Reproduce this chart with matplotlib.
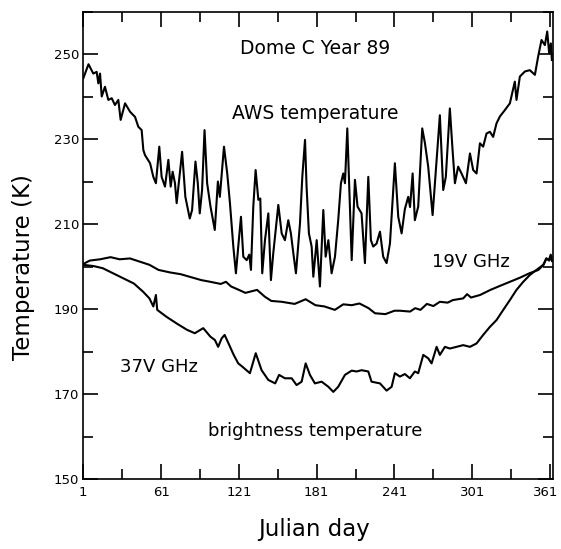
import matplotlib
matplotlib.use("Agg")
import matplotlib.pyplot as plt
from matplotlib.transforms import ScaledTranslation

# AWS air temperature (K)
aws_day = [1, 5, 8.7, 11.3, 12.6, 13.9, 15.2, 17.7, 20.3, 22.9, 25.4, 28, 29.8, 33.2,
           37.1, 40.9, 43.4, 46, 47.3, 48.6, 52.5, 55, 57, 59.6, 61.4, 64, 66.6, 68.4,
           69.9, 71.7, 73, 77.2, 79.7, 83.1, 84.9, 87.5, 89.3, 90.8, 92.6, 94.5, 96.5,
           99.1, 102.4, 104.8, 106.3, 109.5, 112, 114.1, 116.7, 118.7, 120.5, 122.6,
           124.4, 127, 129, 130.3, 132.1, 133.9, 136, 137.5, 139, 141.1, 143.7, 145.7,
           147.5, 151.4, 154, 156.5, 159.1, 161.1, 163, 165, 168.1, 169.9, 172, 173.2,
           175, 177.1, 178.4, 181, 183.5, 186.1, 187.9, 190, 192.5, 195.1, 197.6, 199.7,
           201.5, 202.8, 204.6, 206.6, 208, 210.5, 212.5, 215.6, 218.2, 220.8, 222.8,
           224.6, 227.2, 229.8, 232.3, 234.9, 237.5, 241.3, 243.9, 246.5, 249, 251.6,
           253, 255, 256.7, 259.3, 262.4, 264.5, 267, 270.4, 272.2, 276, 278.6, 280.6,
           283.7, 285.8, 287.6, 290.1, 292.7, 296.1, 299.2, 301.7, 304.3, 306.9, 309.4,
           312, 314.6, 317.1, 319.7, 322.3, 326.1, 330, 333.8, 335.1, 337.7, 341.6,
           345.4, 349.3, 351.8, 354.4, 357, 358.8, 360.3, 361.6, 362.4]
aws_temp = [244.3, 247.6, 245.4, 245.8, 243.1, 245.4, 240.0, 242.3, 239.2, 239.6, 238.0,
            239.2, 234.5, 238.4, 236.4, 235.2, 232.9, 232.1, 227.4, 226.2, 224.3, 221.1,
            219.6, 228.2, 221.1, 218.8, 225.1, 218.8, 222.3, 219.6, 214.9, 227.0, 216.4,
            211.3, 213.3, 224.7, 219.6, 212.5, 218.0, 232.1, 219.6, 214.1, 208.6, 220.0,
            216.4, 228.2, 221.9, 214.9, 204.7, 198.4, 204.7, 211.7, 202.3, 201.5, 202.8,
            199.2, 214.1, 222.7, 215.7, 216.0, 198.4, 206.2, 212.5, 196.8, 203.1, 214.5,
            207.8, 206.2, 210.9, 207.8, 203.1, 198.4, 210.1, 221.1, 229.8, 218.8, 207.8,
            204.7, 197.6, 206.2, 195.3, 213.3, 202.3, 206.2, 198.4, 202.3, 210.9, 219.6,
            221.9, 219.6, 232.5, 214.1, 201.5, 220.4, 214.1, 212.5, 200.8, 221.1, 206.2,
            204.7, 205.4, 208.2, 202.3, 200.8, 205.4, 224.3, 211.7, 207.8, 213.5, 216.4,
            214.0, 221.9, 210.9, 214.1, 232.5, 229.0, 223.5, 212.1, 219.6, 235.6, 218.0,
            221.1, 237.2, 227.4, 219.6, 223.5, 221.9, 219.6, 226.6, 222.7, 221.9, 229.0,
            228.2, 231.3, 231.7, 230.5, 233.7, 235.3, 236.8, 238.4, 243.5, 239.2, 244.7,
            245.9, 246.2, 245.1, 249.4, 253.3, 252.1, 255.3, 250.2, 252.5, 248.6]

# 19V GHz brightness temperature (K)
v19_day = [1, 6, 14, 22, 29, 37, 45, 52, 59, 68, 76, 84, 92, 99, 107, 111, 115, 121,
           126, 135, 141, 146, 154, 164, 172.5, 180, 187, 195, 201.5, 208, 214, 221,
           226, 234, 241, 245, 253, 257, 261, 266, 271, 276, 282, 286, 294, 297, 300,
           307, 315, 322, 330, 338, 345, 352, 356, 358, 360, 361.5, 362.5]
v19_temp = [200.6, 201.4, 201.7, 202.2, 201.7, 201.9, 201.1, 200.4, 199.2, 198.6, 198.2,
            197.5, 196.8, 196.4, 195.9, 196.4, 195.3, 194.5, 193.8, 194.5, 192.9, 191.9,
            191.7, 191.2, 192.3, 190.9, 190.6, 189.8, 191.1, 190.9, 191.3, 190.2, 189.0,
            188.8, 189.6, 189.6, 189.4, 190.2, 189.8, 191.2, 190.7, 191.7, 191.5, 192.1,
            192.5, 193.5, 192.7, 193.3, 194.5, 195.4, 196.4, 197.4, 198.4, 199.2, 200.4,
            201.9, 201.5, 202.8, 201.3]

# 37V GHz brightness temperature (K)
v37_day = [1, 9, 16, 24, 32, 40, 47, 52, 55, 57, 58, 65, 73, 81, 87, 93.5, 99, 102.5,
           105, 107.7, 110, 113, 117, 120.5, 123, 129.5, 134, 138.5, 143.7, 149, 152,
           156.5, 161.7, 165.5, 169.4, 172.5, 175.8, 179.6, 184.8, 190, 193.8, 197.6,
           202.8, 208, 211.8, 215.6, 220.8, 223.3, 229.8, 234.9, 238.8, 241.3, 245.2,
           249, 252.9, 256.7, 259.3, 263.2, 267, 269.6, 273.5, 276, 279.9, 283.7, 288.9,
           294, 299.2, 304.3, 309.4, 314.6, 319.7, 324.9, 330, 335.1, 340.3, 345.4,
           350.5, 355.7, 358.3, 360.3, 362]
v37_temp = [200.4, 200.1, 199.6, 198.4, 197.2, 196.0, 194.1, 192.5, 190.6, 193.3, 189.8,
            188.2, 186.6, 185.1, 184.3, 185.5, 183.5, 182.7, 181.1, 183.1, 183.9, 181.9,
            179.2, 177.2, 176.6, 174.9, 179.6, 175.6, 173.3, 172.5, 174.5, 173.7, 173.7,
            172.1, 172.9, 177.2, 174.5, 172.5, 172.9, 171.7, 170.5, 171.7, 174.5, 175.5,
            175.3, 175.6, 175.3, 172.9, 172.5, 170.8, 171.7, 174.9, 174.1, 174.7, 173.7,
            175.3, 174.9, 179.2, 178.4, 177.2, 181.1, 179.2, 181.1, 180.7, 181.1, 181.5,
            181.1, 181.9, 183.9, 185.8, 187.4, 189.8, 192.1, 194.5, 196.4, 198.0, 199.2,
            200.4, 201.9, 201.4, 202.2]

x_major = [1, 61, 121, 181, 241, 301, 361]
x_minor = [31, 91, 151, 211, 271, 331]
y_major = [150, 170, 190, 210, 230, 250]
y_minor = [160, 180, 200, 220, 240, 260]

fig = plt.figure(figsize=(5.61, 5.49), dpi=100)
ax = fig.add_axes([0.1485, 0.1275, 0.8378, 0.8515])

ax.plot(aws_day, aws_temp, color="black", lw=1.5)
ax.plot(v19_day, v19_temp, color="black", lw=1.5)
ax.plot(v37_day, v37_temp, color="black", lw=1.5)

ax.set_xlim(1, 363.5)
ax.set_ylim(150, 260)
ax.set_xticks(x_major)
ax.set_xticks(x_minor, minor=True)
ax.set_yticks(y_major)
ax.set_yticks(y_minor, minor=True)
ax.tick_params(which="both", direction="in", top=True, right=True, width=1.2,
               labelsize=9.5)
ax.tick_params(which="major", length=11)
ax.tick_params(which="minor", length=7)
ax.tick_params(axis="y", pad=3)
ax.tick_params(axis="x", pad=5)
for s in ax.spines.values():
    s.set_linewidth(1.2)

# last day label sits on the right edge, nudge it in a little
last = ax.get_xticklabels()[-1]
last.set_transform(last.get_transform() + ScaledTranslation(-3.5 / 72, 0, fig.dpi_scale_trans))

ax.set_xlabel("Julian day", fontsize=16.5)
ax.set_ylabel("Temperature (K)", fontsize=16.5)
ax.xaxis.set_label_coords(0.492, -0.107)
ax.xaxis.label.set_va("center")
ax.yaxis.set_label_coords(-0.127, 0.4535)
ax.yaxis.label.set_va("center")

ax.text(180, 251.3, "Dome C Year 89", fontsize=13.5, ha="center", va="center")
ax.text(180, 236.0, "AWS temperature", fontsize=13.5, ha="center", va="center")
ax.text(300, 201.1, "19V GHz", fontsize=13, ha="center", va="center")
ax.text(59.5, 176.3, "37V GHz", fontsize=13, ha="center", va="center")
ax.text(180, 161.4, "brightness temperature", fontsize=13, ha="center", va="center")

fig.savefig("out.png", dpi=100)
